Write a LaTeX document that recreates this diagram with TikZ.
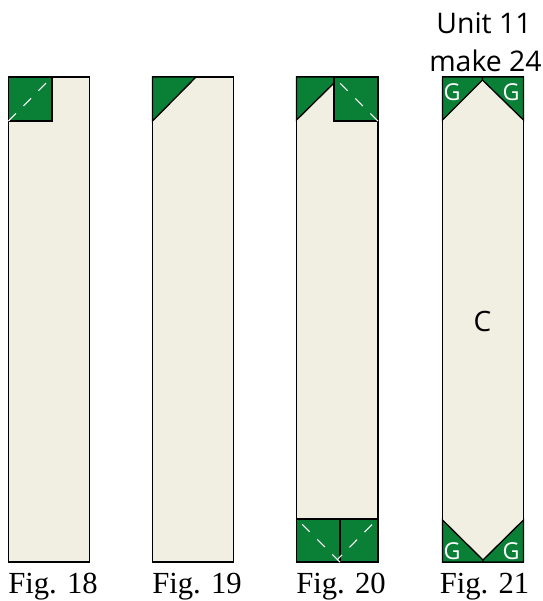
\documentclass[tikz,border=0pt]{standalone}
\usepackage{fontspec}
\setmainfont{Liberation Serif}
\newfontfamily\labelfont{Open Sans}
\definecolor{patchgreen}{RGB}{9,128,54}
\definecolor{patchcream}{RGB}{241,238,226}
\tikzset{
  patch/.style={draw=black,line width=1pt,line join=miter},
  cream/.style={patch,fill=patchcream},
  green/.style={patch,fill=patchgreen},
  fold/.style={draw=white,line width=0.8pt,dash pattern=on 8pt off 8pt},
  figlabel/.style={font=\fontsize{23}{26}\selectfont,inner sep=0pt,anchor=base},
  unitlabel/.style={font=\labelfont\fontsize{21.3}{24}\selectfont,inner sep=0pt,anchor=base},
  letterG/.style={font=\labelfont\fontsize{17.5}{18}\selectfont,text=white,inner sep=0pt},
  letterC/.style={font=\labelfont\fontsize{21}{24}\selectfont,inner sep=0pt}
}
\begin{document}
\begin{tikzpicture}[x=0.75pt,y=-0.75pt]
\useasboundingbox (0,0) rectangle (543,601);
% Fig 18
\draw[cream] (8.5,77) rectangle (89.5,562);
\draw[green] (8.5,77) rectangle (52,121);
\draw[fold] (8.5,121) -- (52,77);
% Fig 19
\draw[cream] (152.5,77) rectangle (233.5,562);
\draw[green] (152.5,77) -- (196,77) -- (152.5,121) -- cycle;
% Fig 20
\draw[cream] (296.5,77) rectangle (378,562);
\draw[green] (296.5,77) -- (334,77) -- (334,83) -- (296.5,120) -- cycle;
\draw[green] (334,77) rectangle (378,121);
\draw[fold] (378,121) -- (334,77);
\draw[green] (296.5,519) rectangle (340,562);
\draw[green] (340,519) rectangle (378,562);
\draw[fold] (340,562) -- (296.5,518.5);
\draw[fold] (372,524.5) -- (338,559);
% Fig 21
\draw[cream] (442.5,77) rectangle (523.5,562);
\draw[green] (442.5,77) -- (482.5,77) -- (482.5,80) -- (442.5,120) -- cycle;
\draw[green] (523.5,77) -- (482.5,77) -- (482.5,80) -- (523.5,120) -- cycle;
\draw[green] (442.5,562) -- (483,562) -- (483,560) -- (442.5,520) -- cycle;
\draw[green] (523.5,562) -- (483,562) -- (483,560) -- (523.5,520) -- cycle;
\node[letterG] (g1) at (452,92) {G};
\node[letterG] (g2) at (511,92) {G};
\node[letterG] (g3) at (452,551) {G};
\node[letterG] (g4) at (511,551) {G};
\node[letterC] (c) at (482.5,321) {C};
% Labels
\node[unitlabel] (u1) at (484,33) {Unit 11};
\node[unitlabel] (u2) at (485.5,71) {make 24};
\node[figlabel] (f18) at (53,593) {Fig. 18};
\node[figlabel] (f19) at (197,593) {Fig. 19};
\node[figlabel] (f20) at (341,593) {Fig. 20};
\node[figlabel] (f21) at (484.5,593) {Fig. 21};
\end{tikzpicture}
\end{document}
